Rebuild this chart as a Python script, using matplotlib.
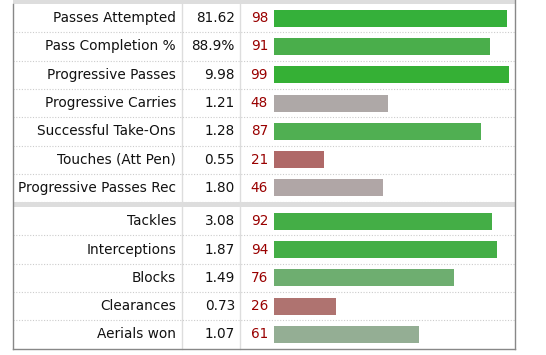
import matplotlib.pyplot as plt
from matplotlib.patches import Rectangle

labels_att = ['Passes Attempted', 'Pass Completion %', 'Progressive Passes',
              'Progressive Carries', 'Successful Take-Ons', 'Touches (Att Pen)',
              'Progressive Passes Rec']
values_att = ['81.62', '88.9%', '9.98', '1.21', '1.28', '0.55', '1.80']
pct_att = [98, 91, 99, 48, 87, 21, 46]

labels_def = ['Tackles', 'Interceptions', 'Blocks', 'Clearances', 'Aerials won']
values_def = ['3.08', '1.87', '1.49', '0.73', '1.07']
pct_def = [92, 94, 76, 26, 61]

colors_att = ['#35b03a', '#4aae4b', '#35b035', '#aea8a7', '#50af52', '#af6968', '#b0a6a6']
colors_def = ['#44ae46', '#44ae46', '#6eae70', '#af7370', '#94ae94']

W, H = 546, 355
fig = plt.figure(figsize=(W / 100, H / 100), dpi=100)
ax = fig.add_axes([0, 0, 1, 1])
ax.set_xlim(0, W)
ax.set_ylim(H, 0)
ax.axis('off')

# table geometry (pixels)
left, right = 12.5, 515
col1, col2 = 182, 240
bar_x0, bar_x1 = 274, 511.4
row_h = 28.3
band1 = (0, 4)
top1 = band1[1]
band2_top = top1 + row_h * len(labels_att)
top2 = band2_top + 5
bottom = top2 + row_h * len(labels_def)
fs = 9.8

# grey bands
ax.add_patch(Rectangle((left, band1[0]), right - left, band1[1] - band1[0],
                       color='#dddddd', lw=0))
ax.add_patch(Rectangle((left, band2_top), right - left, top2 - band2_top,
                       color='#dddddd', lw=0, zorder=3))

# column dividers
for cx in (col1, col2):
    ax.plot([cx, cx], [top1, bottom], color='#dddddd', lw=1, zorder=1)

bax = fig.add_axes([bar_x0 / W, 0, (bar_x1 - bar_x0) / W, 1])
bax.set_xlim(0, 100)
bax.set_ylim(H, 0)
bax.axis('off')


def draw_section(labels, values, pcts, colors, top):
    ys = [top + row_h * (i + 0.5) for i in range(len(labels))]
    for i, y in enumerate(ys):
        ax.text(col1 - 6, y, labels[i], ha='right', va='center',
                fontsize=fs, color='#111111')
        ax.text(col2 - 5, y, values[i], ha='right', va='center',
                fontsize=fs, color='#111111')
        ax.text(bar_x0 - 6, y, str(pcts[i]), ha='right', va='center',
                fontsize=fs, color='#990000')
        if i < len(labels) - 1 or top == top1:
            sep = top + row_h * (i + 1)
            ax.plot([left, right], [sep, sep], color='#cccccc', lw=0.8,
                    ls=(0, (1, 1.5)), zorder=2)
    bax.barh(ys, pcts, height=17, color=colors, left=0)


draw_section(labels_att, values_att, pct_att, colors_att, top1)
draw_section(labels_def, values_def, pct_def, colors_def, top2)

# outer border
ax.plot([left, left], [top1, bottom], color='#888888', lw=1, zorder=4)
ax.plot([right, right], [0, bottom], color='#888888', lw=1, zorder=4)
ax.plot([left, right], [bottom, bottom], color='#888888', lw=1, zorder=4)

fig.savefig('out.png', dpi=100)
